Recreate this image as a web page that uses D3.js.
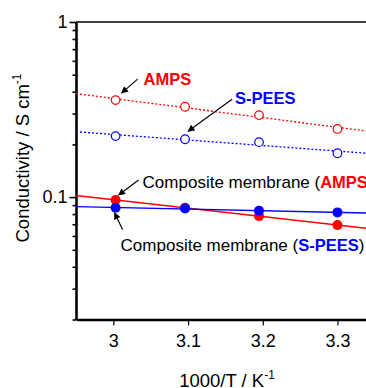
<!DOCTYPE html>
<html>
<head>
<meta charset="utf-8">
<script src="https://cdn.jsdelivr.net/npm/d3@7"></script>
<style>
  body { margin: 0; background: #fff; }
  svg { display: block; font-family: "Liberation Sans", Arial, sans-serif; }
</style>
</head>
<body>
<div id="chart-container"></div>
<script>
// 1000/T for 60, 50, 40, 30 °C
const invTemp = [3.003, 3.096, 3.195, 3.300];
const ampsValues = [0.358, 0.328, 0.294, 0.245];
const speesValues = [0.223, 0.214, 0.206, 0.178];
const compAmpsValues = [0.0962, 0.087, 0.0779, 0.0692];
const compSpeesValues = [0.0869, 0.0862, 0.0835, 0.0818];

const xTicks = [3, 3.1, 3.2, 3.3];
const yMajorTicks = [0.1, 1];
const yMinorTicks = [0.02, 0.03, 0.04, 0.05, 0.06, 0.07, 0.08, 0.09,
                     0.2, 0.3, 0.4, 0.5, 0.6, 0.7, 0.8, 0.9];

const RED = "#ff0000";
const BLUE = "#0000ff";

const W = 366, H = 388;
const margin = { top: 22, left: 76 };
const plotW = 373.5;          // plot runs past the right edge, like the source
const plotH = 297.5;

const svg = d3.select("#chart-container")
    .append("svg")
    .attr("width", W)
    .attr("height", H);

const g = svg.append("g")
    .attr("transform", `translate(${margin.left},${margin.top})`);

const x = d3.scaleLinear().domain([2.95, 3.45]).range([0, plotW]);
const y = d3.scaleLog().domain([0.02, 1]).range([plotH, 0]);

// arrow head
svg.append("defs").append("marker")
    .attr("id", "arrow")
    .attr("viewBox", "0 0 10 10")
    .attr("refX", 9).attr("refY", 5)
    .attr("markerWidth", 8).attr("markerHeight", 7)
    .attr("markerUnits", "userSpaceOnUse")
    .attr("orient", "auto")
    .append("path")
    .attr("d", "M0,0 L10,5 L0,10 Z")
    .attr("fill", "#000");

// top frame line
g.append("line")
    .attr("x1", 0).attr("x2", plotW)
    .attr("y1", 0).attr("y2", 0)
    .attr("stroke", "#000")
    .attr("stroke-width", 1.3);

// x axis
const xAxisG = g.append("g")
    .attr("transform", `translate(0,${plotH})`)
    .call(d3.axisBottom(x).tickValues(xTicks).tickFormat(d3.format("")).tickSize(6).tickSizeOuter(0).tickPadding(9));
xAxisG.select(".domain").attr("stroke-width", 2.6);
xAxisG.selectAll(".tick line").attr("stroke-width", 1.2);
xAxisG.selectAll(".tick text").style("font-size", "18px").attr("fill", "#000").style("font-family", "inherit");

// y axis, minor ticks then major
const yMinorG = g.append("g")
    .call(d3.axisLeft(y).tickValues(yMinorTicks).tickFormat("").tickSize(3.5).tickSizeOuter(0));
yMinorG.select(".domain").remove();
yMinorG.selectAll(".tick line").attr("stroke-width", 1.6);

const yAxisG = g.append("g")
    .call(d3.axisLeft(y).tickValues(yMajorTicks).tickFormat(d3.format("")).tickSize(6.5).tickSizeOuter(0).tickPadding(2));
yAxisG.select(".domain").attr("stroke-width", 2.6);
yAxisG.selectAll(".tick line").attr("stroke-width", 1.6);
yAxisG.selectAll(".tick text").style("font-size", "18px").attr("fill", "#000").style("font-family", "inherit");

// series
const series = [
    { name: "AMPS", values: ampsValues, color: RED, filled: false, dash: "2,2" },
    { name: "S-PEES", values: speesValues, color: BLUE, filled: false, dash: "2,2" },
    { name: "Composite AMPS", values: compAmpsValues, color: RED, filled: true, dash: null },
    { name: "Composite S-PEES", values: compSpeesValues, color: BLUE, filled: true, dash: null }
];

// least squares fit of log10(sigma) against 1000/T
function fitLine(vals) {
    const ly = vals.map(v => Math.log10(v));
    const mx = d3.mean(invTemp), my = d3.mean(ly);
    const sxy = d3.sum(invTemp, (t, i) => (t - mx) * (ly[i] - my));
    const sxx = d3.sum(invTemp, t => (t - mx) * (t - mx));
    const b = sxy / sxx, a = my - b * mx;
    return x.domain().map(t => ({ t, v: Math.pow(10, a + b * t) }));
}

const line = d3.line()
    .x(d => x(d.t))
    .y(d => y(d.v));

series.forEach(s => {
    g.append("path")
        .datum(fitLine(s.values))
        .attr("fill", "none")
        .attr("stroke", s.color)
        .attr("stroke-width", s.filled ? 1.4 : 1.3)
        .attr("stroke-dasharray", s.dash)
        .attr("d", line);
});

series.forEach(s => {
    g.selectAll(null)
        .data(s.values.map((v, i) => ({ t: invTemp[i], v })))
        .join("circle")
        .attr("cx", d => x(d.t))
        .attr("cy", d => y(d.v))
        .attr("r", s.filled ? 5 : 4.3)
        .attr("fill", s.filled ? s.color : "#fff")
        .attr("stroke", s.color)
        .attr("stroke-width", s.filled ? 0 : 1.2);
});

// annotations: point they refer to + pixel offsets
const notes = [
    { target: [invTemp[0], ampsValues[0]], tip: [6, -7], tail: [22, -21], text: [28, -15],
      parts: [{ s: "AMPS", bold: true, color: RED }] },
    { target: [invTemp[1], speesValues[1]], tip: [3, -8], tail: [47, -40], text: [50, -35],
      parts: [{ s: "S-PEES", bold: true, color: BLUE }] },
    { target: [invTemp[0], compAmpsValues[0]], tip: [3, -5], tail: [23, -20], text: [27, -12],
      parts: [{ s: "Composite membrane (" }, { s: "AMPS", bold: true, color: RED }, { s: ")" }] },
    { target: [invTemp[0], compSpeesValues[0]], tip: [-1, 5], tail: [7, 22], text: [5, 43],
      parts: [{ s: "Composite membrane (" }, { s: "S-PEES", bold: true, color: BLUE }, { s: ")" }] }
];

notes.forEach(n => {
    const px = x(n.target[0]), py = y(n.target[1]);
    g.append("line")
        .attr("x1", px + n.tail[0]).attr("y1", py + n.tail[1])
        .attr("x2", px + n.tip[0]).attr("y2", py + n.tip[1])
        .attr("stroke", "#000")
        .attr("stroke-width", 1.2)
        .attr("marker-end", "url(#arrow)");
    const t = g.append("text")
        .attr("x", px + n.text[0])
        .attr("y", py + n.text[1])
        .style("font-size", "17px");
    n.parts.forEach(p => {
        t.append("tspan")
            .text(p.s)
            .attr("fill", p.color || "#000")
            .style("font-weight", p.bold ? "bold" : "normal")
            .style("font-size", p.bold ? "16.5px" : "17px");
    });
});

// axis titles
const xTitle = svg.append("text")
    .attr("x", 227)
    .attr("y", 387)
    .attr("text-anchor", "middle")
    .style("font-size", "18.5px")
    .attr("fill", "#000");
xTitle.append("tspan").text("1000/T / K");
xTitle.append("tspan").text("-1").attr("dy", -8).style("font-size", "12px");

const yTitle = svg.append("text")
    .attr("transform", "translate(29,158) rotate(-90)")
    .attr("text-anchor", "middle")
    .style("font-size", "18.5px")
    .attr("fill", "#000");
yTitle.append("tspan").text("Conductivity / S cm");
yTitle.append("tspan").text("-1").attr("dy", -8).style("font-size", "12px");
</script>
</body>
</html>
